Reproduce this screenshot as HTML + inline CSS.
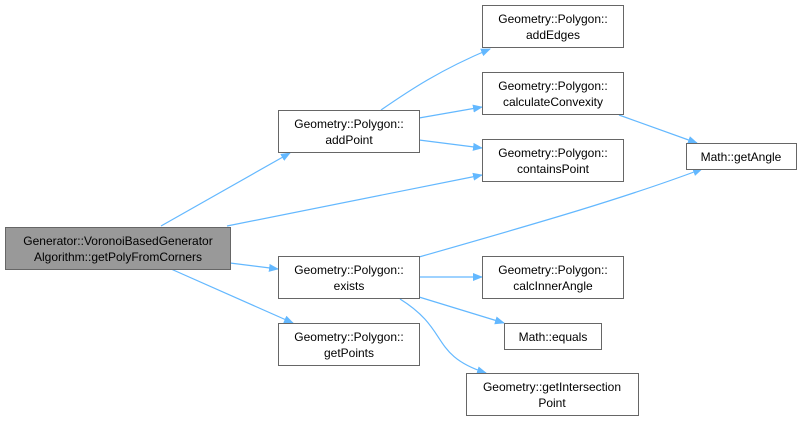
<!DOCTYPE html>
<html><head><meta charset="utf-8"><style>
body{margin:0;background:#fff;width:801px;height:421px;overflow:hidden}
svg text{font-family:"Liberation Sans",Arial,sans-serif;font-size:12px;fill:#000}
</style></head><body>
<svg width="801" height="421" viewBox="0 0 801 421">
<defs><marker id="ah" viewBox="0 0 10 10" refX="9" refY="5" markerWidth="10" markerHeight="10" markerUnits="userSpaceOnUse" orient="auto"><path d="M0,1 L10,5 L0,9 z" fill="#63b8ff"/></marker></defs>
<g fill="none" stroke="#63b8ff" stroke-width="1.2" marker-end="url(#ah)">
<path d="M161,226 L290,153"/>
<path d="M227,226 L482,175"/>
<path d="M230,263 L278,269"/>
<path d="M171,269 L293,323"/>
<path d="M381,110 C410,90 440,70 490,49"/>
<path d="M419,118 L482,107"/>
<path d="M419,140 L482,148"/>
<path d="M619,115 L697,143"/>
<path d="M419,257 C520,228 620,200 702,169"/>
<path d="M419,277 L482,277"/>
<path d="M419,297 L504,323"/>
<path d="M400,299 C450,330 430,355 486,373"/>
</g>
<g stroke="#666" stroke-width="1">
<rect x="5.5" y="227.5" width="225" height="42" fill="#999"/>
<rect x="278.5" y="110.5" width="141" height="42" fill="#fff"/>
<rect x="278.5" y="256.5" width="141" height="42" fill="#fff"/>
<rect x="278.5" y="323.5" width="141" height="42" fill="#fff"/>
<rect x="482.5" y="5.5" width="141" height="42" fill="#fff"/>
<rect x="482.5" y="72.5" width="141" height="42" fill="#fff"/>
<rect x="482.5" y="139.5" width="141" height="42" fill="#fff"/>
<rect x="686.5" y="143.5" width="110" height="26" fill="#fff"/>
<rect x="482.5" y="256.5" width="141" height="42" fill="#fff"/>
<rect x="504.5" y="323.5" width="97" height="26" fill="#fff"/>
<rect x="466.5" y="373.5" width="172" height="42" fill="#fff"/>
</g>
<g text-anchor="middle">
<text x="118" y="245">Generator::VoronoiBasedGenerator</text><text x="118" y="261">Algorithm::getPolyFromCorners</text>
<text x="349" y="128">Geometry::Polygon::</text><text x="349" y="144">addPoint</text>
<text x="349" y="274">Geometry::Polygon::</text><text x="349" y="290">exists</text>
<text x="349" y="341">Geometry::Polygon::</text><text x="349" y="357">getPoints</text>
<text x="553" y="23">Geometry::Polygon::</text><text x="553" y="39">addEdges</text>
<text x="553" y="90">Geometry::Polygon::</text><text x="553" y="106">calculateConvexity</text>
<text x="553" y="157">Geometry::Polygon::</text><text x="553" y="173">containsPoint</text>
<text x="741" y="161">Math::getAngle</text>
<text x="553" y="274">Geometry::Polygon::</text><text x="553" y="290">calcInnerAngle</text>
<text x="553" y="341">Math::equals</text>
<text x="552" y="391">Geometry::getIntersection</text><text x="552" y="407">Point</text>
</g>
</svg>
</body></html>
